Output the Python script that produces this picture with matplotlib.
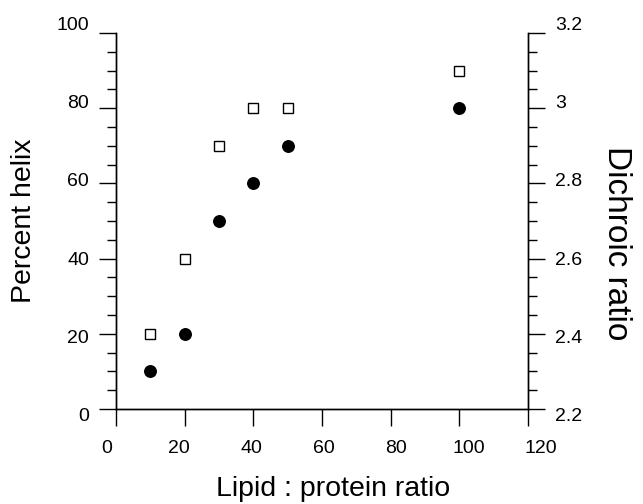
import numpy as np
import matplotlib
matplotlib.use('Agg')
from matplotlib import pyplot as plt
from matplotlib.ticker import MultipleLocator
from matplotlib.transforms import ScaledTranslation

plt.rcParams['font.family'] = ['Liberation Sans', 'DejaVu Sans']

# lipid : protein ratio
ratio = [10, 20, 30, 40, 50, 100]
# percent helix (filled circles, left axis)
helix = [10, 20, 50, 60, 70, 80]
# dichroic ratio (open squares, right axis)
dichroic = [2.4, 2.6, 2.9, 3.0, 3.0, 3.1]

x_ticks = [0, 20, 40, 60, 80, 100, 120]
helix_ticks = [0, 20, 40, 60, 80, 100]
ratio_ticks = [2.2, 2.4, 2.6, 2.8, 3.0, 3.2]
ratio_labels = ['2.2', '2.4', '2.6', '2.8', '3', '3.2']

fig = plt.figure(figsize=(6.43, 5.04), dpi=100)
ax = fig.add_axes([0.1804, 0.1885, 0.6408, 0.746])
ax2 = ax.twinx()

ax.plot(ratio, helix, 'o', color='black', markersize=8.3, clip_on=False)
ax2.plot(ratio, dichroic, 's', markerfacecolor='white', markeredgecolor='black',
         markeredgewidth=1.0, markersize=7.8, clip_on=False)

ax.set_xlim(0, 120)
ax.set_xticks(x_ticks)
ax.set_ylim(0, 100)
ax.set_yticks(helix_ticks)
ax.yaxis.set_minor_locator(MultipleLocator(5))
ax2.set_ylim(2.2, 3.2)
ax2.set_yticks(ratio_ticks)
ax2.set_yticklabels(ratio_labels)
ax2.yaxis.set_minor_locator(MultipleLocator(0.05))

for a in (ax, ax2):
    a.spines['top'].set_visible(False)
    for s in a.spines.values():
        s.set_linewidth(1.0)

fontsize = 14
ax.tick_params(axis='y', which='major', direction='out', length=12.5, width=1.0,
               labelsize=fontsize, pad=7)
ax.tick_params(axis='y', which='minor', direction='out', length=6.5, width=1.0)
ax.tick_params(axis='x', which='major', direction='out', length=12, width=1.0,
               labelsize=fontsize, pad=10)
ax2.tick_params(axis='y', which='major', direction='out', length=12.5, width=1.0,
                labelsize=fontsize, pad=7)
ax2.tick_params(axis='y', which='minor', direction='out', length=6.5, width=1.0)

ax.set_xlabel('Lipid : protein ratio', fontsize=20.5, labelpad=14)
ax.xaxis.label.set_x(0.527)
ax.set_ylabel('Percent helix', fontsize=20.5, labelpad=14)
ax2.set_ylabel('Dichroic ratio', fontsize=24, rotation=-90, labelpad=36)
ax2.yaxis.label.set_y(0.441)

# the original tick labels sit a bit spread out from their ticks
fig.canvas.draw()
def shift(label, dx, dy):
    label.set_transform(label.get_transform() +
                        ScaledTranslation(dx / 100, dy / 100, fig.dpi_scale_trans))

for v, lab in zip(x_ticks, ax.get_xticklabels()):
    shift(lab, -9 + 22 * v / 120, 0)
for v, lab in zip(helix_ticks, ax.get_yticklabels()):
    shift(lab, 0, -6 + 16 * v / 100)
for v, lab in zip(ratio_ticks, ax2.get_yticklabels()):
    shift(lab, 0, -6 + 16 * (v - 2.2) / 1.0)

plt.savefig('out.png', dpi=100, facecolor='white')
